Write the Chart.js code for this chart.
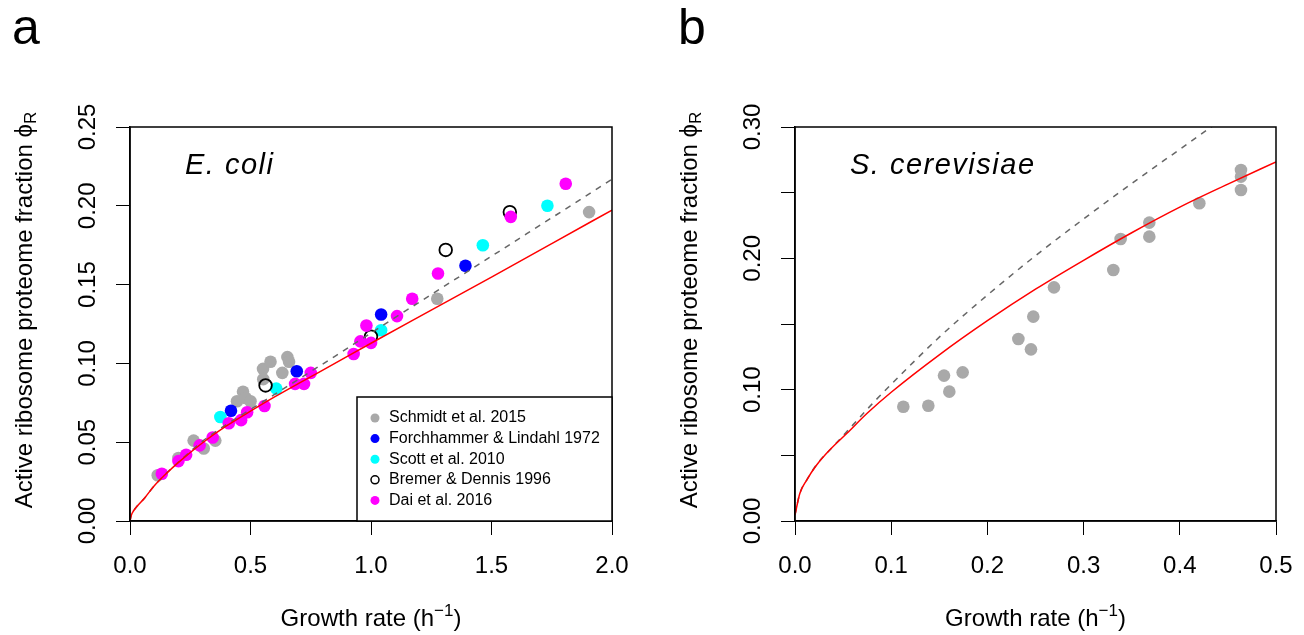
<!DOCTYPE html>
<html>
<head>
<meta charset="utf-8">
<script src="https://cdn.jsdelivr.net/npm/chart.js@4.4.1/dist/chart.umd.min.js"></script>
<style>
  html, body { margin: 0; padding: 0; background: #fff; overflow: hidden; }
  #wrap { position: relative; width: 1304px; height: 635px; overflow: hidden; }
  canvas { position: absolute; top: 0; }
</style>
</head>
<body>
<div id="wrap">
  <canvas id="chartA" width="652" height="635" style="left:0"></canvas>
  <canvas id="chartB" width="664" height="635" style="left:652px"></canvas>
</div>
<script>
// ---- panel a: E. coli ----
const schmidtX = [0.115, 0.201, 0.264, 0.306, 0.354, 0.444, 0.469, 0.480, 0.500, 0.552, 0.553, 0.583, 0.632, 0.653, 0.660, 1.275, 1.905];
const schmidtY = [0.029, 0.040, 0.051, 0.046, 0.051, 0.076, 0.082, 0.078, 0.076, 0.0965, 0.090, 0.101, 0.094, 0.104, 0.101, 0.141, 0.196];
const forchX = [0.419, 0.692, 1.042, 1.392];
const forchY = [0.070, 0.095, 0.131, 0.162];
const scottX = [0.375, 0.607, 1.042, 1.464, 1.732];
const scottY = [0.066, 0.084, 0.121, 0.175, 0.200];
const bremerX = [0.5625, 1.0, 1.31, 1.576];
const bremerY = [0.086, 0.117, 0.172, 0.196];
const daiX = [0.132, 0.201, 0.233, 0.289, 0.343, 0.410, 0.461, 0.486, 0.558, 0.685, 0.722, 0.750, 0.928, 0.956, 0.981, 1.000, 1.108, 1.171, 1.278, 1.580, 1.808];
const daiY = [0.030, 0.038, 0.042, 0.048, 0.053, 0.062, 0.064, 0.069, 0.073, 0.087, 0.087, 0.094, 0.106, 0.114, 0.124, 0.113, 0.130, 0.141, 0.157, 0.193, 0.214];

// model curves
const curveAX = [0, 0.005, 0.015, 0.03, 0.06, 0.1, 0.15, 0.2, 0.3, 0.4, 0.5, 0.6, 0.7, 0.85, 1.0, 1.25, 1.5, 1.75, 2.0];
const redAY  = [0, 0.0035, 0.0065, 0.0095, 0.0145, 0.0222, 0.0300, 0.0370, 0.0495, 0.0603, 0.0697, 0.0787, 0.0873, 0.1000, 0.1128, 0.1338, 0.1548, 0.1760, 0.1973];
const dashAY = [0, 0.0035, 0.0065, 0.0095, 0.0145, 0.0222, 0.0302, 0.0372, 0.0505, 0.0612, 0.0708, 0.0803, 0.0900, 0.1045, 0.1193, 0.1437, 0.1680, 0.1924, 0.2168];

const yLabelsA = [0, 0.05, 0.10, 0.15, 0.20, 0.25];

// ---- panel b: S. cerevisiae ----
const yeastX = [0.1126, 0.1386, 0.1549, 0.1604, 0.1743, 0.2322, 0.2453, 0.2477, 0.2692, 0.3309, 0.3385, 0.3683, 0.3683, 0.4203, 0.4636, 0.4636, 0.4636];
const yeastY = [0.0870, 0.0878, 0.1107, 0.0985, 0.1132, 0.1386, 0.1307, 0.1556, 0.1779, 0.1911, 0.2147, 0.2272, 0.2165, 0.2419, 0.2673, 0.2622, 0.2520];

const redBX = [0, 0.005, 0.012, 0.0225, 0.036, 0.054, 0.075, 0.1, 0.15, 0.2, 0.25, 0.3, 0.35, 0.4, 0.45, 0.5];
const redBY = [0.0046, 0.021, 0.031, 0.0426, 0.054, 0.0668, 0.082, 0.098, 0.1265, 0.1525, 0.1765, 0.1985, 0.2195, 0.239, 0.2565, 0.2734];
const dashBX = [0, 0.005, 0.012, 0.0225, 0.04, 0.06, 0.08, 0.1, 0.15, 0.2, 0.25, 0.3, 0.35, 0.4, 0.45];
const dashBY = [0.0046, 0.021, 0.031, 0.043, 0.057, 0.073, 0.089, 0.104, 0.140, 0.172, 0.202, 0.230, 0.257, 0.283, 0.309];

const yLabelsB = [0, 0.10, 0.20, 0.30];

const FONT = '"Liberation Sans", Arial, Helvetica, sans-serif';
Chart.defaults.font.family = FONT;

const zip = (xs, ys) => xs.map((x, i) => ({ x: x, y: ys[i] }));

function pts(label, xs, ys, fill, order) {
  return {
    label: label,
    data: zip(xs, ys),
    order: order,
    pointRadius: 6.3,
    pointHoverRadius: 6.3,
    pointBackgroundColor: fill || 'rgba(0,0,0,0)',
    pointBorderColor: fill || '#000',
    pointBorderWidth: fill ? 0 : 1.8,
    backgroundColor: fill || 'rgba(0,0,0,0)',
    showLine: false
  };
}

function curve(xs, ys, color, dash, order) {
  return {
    label: '',
    data: zip(xs, ys),
    order: order,
    showLine: true,
    pointRadius: 0,
    borderColor: color,
    borderWidth: 1.5,
    borderDash: dash,
    cubicInterpolationMode: 'monotone',
    fill: false
  };
}

// text, box and legend drawn on top of the chart
const decor = {
  id: 'decor',
  afterDraw(chart, args, o) {
    const ctx = chart.ctx;
    const a = chart.chartArea;
    const y = chart.scales.y;
    ctx.save();
    ctx.strokeStyle = '#000';
    ctx.lineWidth = 1.5;
    ctx.strokeRect(a.left, a.top, a.right - a.left, a.bottom - a.top);

    ctx.fillStyle = '#000';
    // rotated y tick labels
    ctx.font = '24px ' + FONT;
    ctx.textAlign = 'center';
    ctx.textBaseline = 'alphabetic';
    o.yLabels.forEach(v => {
      ctx.save();
      ctx.translate(a.left - 35, y.getPixelForValue(v));
      ctx.rotate(-Math.PI / 2);
      ctx.fillText(v.toFixed(2), 0, 0);
      ctx.restore();
    });

    // y title with subscript
    const main = 'Active ribosome proteome fraction \u03D5';
    ctx.font = '24px ' + FONT;
    const w1 = ctx.measureText(main).width;
    ctx.font = '17px ' + FONT;
    const w2 = ctx.measureText('R').width;
    ctx.save();
    ctx.translate(a.left - 98, (a.top + a.bottom) / 2 - 14);
    ctx.rotate(-Math.PI / 2);
    ctx.textAlign = 'left';
    ctx.font = '24px ' + FONT;
    ctx.fillText(main, -(w1 + w2) / 2, 0);
    ctx.font = '17px ' + FONT;
    ctx.fillText('R', -(w1 + w2) / 2 + w1, 4);
    ctx.restore();

    // x title with superscript
    const xt = 'Growth rate (h';
    ctx.font = '24px ' + FONT;
    const t1 = ctx.measureText(xt).width;
    const t3 = ctx.measureText(')').width;
    ctx.font = '17px ' + FONT;
    const t2 = ctx.measureText('\u22121').width;
    let sx = (a.left + a.right) / 2 - (t1 + t2 + t3) / 2;
    const by = a.bottom + 105;
    ctx.textAlign = 'left';
    ctx.font = '24px ' + FONT;
    ctx.fillText(xt, sx, by);
    ctx.font = '17px ' + FONT;
    ctx.fillText('\u22121', sx + t1, by - 10);
    ctx.font = '24px ' + FONT;
    ctx.fillText(')', sx + t1 + t2, by);

    // panel letter
    ctx.font = '50px ' + FONT;
    ctx.fillText(o.letter, o.letterX, 44);

    // species name
    ctx.font = 'italic 29px ' + FONT;
    ctx.letterSpacing = '1.5px';
    ctx.fillText(o.species, a.left + 55, a.top + 47);
    ctx.letterSpacing = '0px';

    // legend box
    if (o.legend) {
      const lx = a.right - 255, ly = a.bottom - 124;
      ctx.fillStyle = '#fff';
      ctx.fillRect(lx, ly, 255, 124);
      ctx.strokeStyle = '#000';
      ctx.lineWidth = 1.5;
      ctx.strokeRect(lx, ly, 255, 124);
      ctx.font = '16px ' + FONT;
      ctx.textBaseline = 'middle';
      const rows = chart.data.datasets.filter(d => !d.showLine);
      rows.forEach((d, i) => {
        const cy = ly + 21 + i * 20.6;
        ctx.beginPath();
        if (d.pointBorderWidth > 0) {
          ctx.arc(lx + 18, cy, 4, 0, Math.PI * 2);
          ctx.lineWidth = 1.5;
          ctx.strokeStyle = '#000';
          ctx.stroke();
        } else {
          ctx.arc(lx + 18, cy, 4.5, 0, Math.PI * 2);
          ctx.fillStyle = d.pointBackgroundColor;
          ctx.fill();
        }
        ctx.fillStyle = '#000';
        ctx.fillText(d.label, lx + 32, cy);
      });
    }
    ctx.restore();
  }
};

function axis(min, max, step, showTicks, fitFn) {
  return {
    type: 'linear',
    min: min,
    max: max,
    afterFit: fitFn,
    ticks: {
      display: showTicks,
      stepSize: step,
      padding: 17,
      color: '#000',
      font: { size: 24 },
      autoSkip: false,
      maxRotation: 0,
      callback: v => v.toFixed(1)
    },
    grid: { drawOnChartArea: false, drawTicks: true, tickLength: 14, color: '#000', lineWidth: 1 },
    border: { display: true, color: '#000', width: 1.5 }
  };
}

function makeChart(id, datasets, xMax, xStep, yMax, padRight, yWidth, decorOpts) {
  return new Chart(document.getElementById(id), {
    type: 'scatter',
    data: { datasets: datasets },
    options: {
      responsive: false,
      animation: false,
      devicePixelRatio: 1,
      layout: { padding: { top: 127, right: padRight, left: 0, bottom: 0 } },
      plugins: {
        legend: { display: false },
        tooltip: { enabled: false },
        decor: decorOpts
      },
      scales: {
        x: axis(0, xMax, xStep, true, s => { s.height = 114; }),
        y: axis(0, yMax, 0.05, false, s => { s.width = yWidth; })
      }
    },
    plugins: [decor]
  });
}

makeChart('chartA', [
  pts('Schmidt et al. 2015', schmidtX, schmidtY, '#a9a9a9', 6),
  pts('Forchhammer & Lindahl 1972', forchX, forchY, '#0000ff', 5),
  pts('Scott et al. 2010', scottX, scottY, '#00ffff', 4),
  pts('Bremer & Dennis 1996', bremerX, bremerY, null, 3),
  pts('Dai et al. 2016', daiX, daiY, '#ff00ff', 2),
  curve(curveAX, dashAY, '#666666', [6, 6], 1),
  curve(curveAX, redAY, '#ff0000', [], 0)
], 2.0, 0.5, 0.25, 40, 130, { letter: 'a', letterX: 12, species: 'E. coli', legend: true, yLabels: yLabelsA });

makeChart('chartB', [
  pts('Yeast', yeastX, yeastY, '#a9a9a9', 3),
  curve(dashBX, dashBY, '#666666', [6, 6], 1),
  curve(redBX, redBY, '#ff0000', [], 0)
], 0.5, 0.1, 0.30, 40, 143, { letter: 'b', letterX: 26, species: 'S. cerevisiae', legend: false, yLabels: yLabelsB });
</script>
</body>
</html>
